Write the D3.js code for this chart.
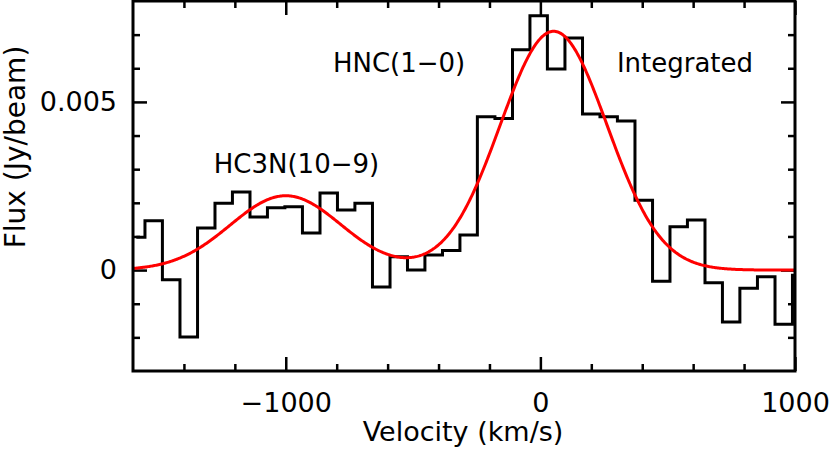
<!DOCTYPE html>
<html>
<head>
<meta charset="utf-8">
<script src="https://cdn.jsdelivr.net/npm/d3@7"></script>
<style>
  html, body { margin: 0; padding: 0; background: #fff; }
  svg { display: block; }
  text { font-family: "DejaVu Sans", sans-serif; fill: #000; }
</style>
</head>
<body>
<script>
// ---- data ----
const channelVelocity = [-1587, -1519, -1450, -1381, -1312, -1244, -1175, -1106, -1038, -969,
  -900, -831, -763, -694, -625, -556, -488, -419, -350, -282,
  -213, -144, -75, -7, 62, 131, 200, 268, 337, 406,
  475, 543, 612, 681, 749, 818, 887, 956, 1024];
const channelFlux = [0.00098, 0.00147, -0.00029, -0.00199, 0.00125, 0.00199, 0.00232, 0.00158, 0.00185, 0.00188,
  0.00110, 0.00229, 0.00179, 0.00199, -0.00050, 0.00040, 0.00000, 0.00045, 0.00058, 0.00104,
  0.00456, 0.00451, 0.00655, 0.00756, 0.00598, 0.00690, 0.00464, 0.00456, 0.00443, 0.00208,
  -0.00033, 0.00129, 0.00149, -0.00038, -0.00154, -0.00054, -0.00020, -0.00161, -0.00015];
// Gaussian fit components (HC3N(10-9), HNC(1-0))
const fitCenter = [-1000, 52];
const fitAmp = [0.00221, 0.00710];
const fitSigma = [218, 210];

const xDomain = [-1600, 1000];
const yDomain = [-0.003, 0.008];
const xMajorTicks = [-1000, 0, 1000];
const xMajorLabels = ["\u22121000", "0", "1000"];
const xMinorTicks = [-1400, -1200, -800, -600, -400, -200, 200, 400, 600, 800];
const yMajorTicks = [0, 0.005];
const yMajorLabels = ["0", "0.005"];
const yMinorTicks = [-0.002, -0.001, 0.001, 0.002, 0.003, 0.004, 0.006, 0.007];
const annotations = [
  {text: "HC3N(10\u22129)", v: -958, f: 0.00289},
  {text: "HNC(1\u22120)", v: -555, f: 0.00589},
  {text: "Integrated", v: 568, f: 0.00589}
];
const xTitle = "Velocity (km/s)";
const yTitle = "Flux (Jy/beam)";

// ---- layout ----
const W = 830, H = 449;
const L = 133, R = 795, T = 1, B = 371;

const svg = d3.select("body").append("svg").attr("width", W).attr("height", H);
const x = d3.scaleLinear().domain(xDomain).range([L, R]);
const y = d3.scaleLinear().domain(yDomain).range([B, T]);

svg.append("defs").append("clipPath").attr("id", "plotclip")
  .append("rect").attr("x", L).attr("y", T - 2).attr("width", R - L).attr("height", B - T + 4);

const FS = 27;

function styleAxis(g) {
  g.select(".domain").remove();
  g.selectAll(".tick line").attr("stroke", "#000").attr("stroke-width", 2.5);
  g.selectAll(".tick text").style("font-family", "DejaVu Sans, sans-serif").style("font-size", FS + "px").attr("fill", "#000");
}
const majLen = 14, minLen = 7;

svg.append("g").attr("transform", `translate(0,${B})`)
  .call(d3.axisBottom(x).tickValues(xMajorTicks).tickSize(-majLen).tickPadding(22)
    .tickFormat((d, i) => xMajorLabels[i]))
  .call(styleAxis);
svg.append("g").attr("transform", `translate(0,${B})`)
  .call(d3.axisBottom(x).tickValues(xMinorTicks).tickSize(-minLen).tickFormat(""))
  .call(styleAxis);
svg.append("g").attr("transform", `translate(0,${T})`)
  .call(d3.axisTop(x).tickValues(xMajorTicks).tickSize(-majLen).tickFormat(""))
  .call(styleAxis);
svg.append("g").attr("transform", `translate(0,${T})`)
  .call(d3.axisTop(x).tickValues(xMinorTicks).tickSize(-minLen).tickFormat(""))
  .call(styleAxis);

svg.append("g").attr("transform", `translate(${L},0)`)
  .call(d3.axisLeft(y).tickValues(yMajorTicks).tickSize(-majLen).tickPadding(16)
    .tickFormat((d, i) => yMajorLabels[i]))
  .call(styleAxis);
svg.append("g").attr("transform", `translate(${L},0)`)
  .call(d3.axisLeft(y).tickValues(yMinorTicks).tickSize(-minLen).tickFormat(""))
  .call(styleAxis);
svg.append("g").attr("transform", `translate(${R},0)`)
  .call(d3.axisRight(y).tickValues(yMajorTicks).tickSize(-majLen).tickFormat(""))
  .call(styleAxis);
svg.append("g").attr("transform", `translate(${R},0)`)
  .call(d3.axisRight(y).tickValues(yMinorTicks).tickSize(-minLen).tickFormat(""))
  .call(styleAxis);

// histogram
const spectrum = channelVelocity.map((v, i) => ({v, f: channelFlux[i]}));
svg.append("path")
  .datum(spectrum)
  .attr("clip-path", "url(#plotclip)")
  .attr("fill", "none").attr("stroke", "#000").attr("stroke-width", 3)
  .attr("stroke-linejoin", "miter")
  .attr("d", d3.line().x(d => x(d.v)).y(d => y(d.f)).curve(d3.curveStep));

// fitted model
const model = d3.range(xDomain[0], xDomain[1] + 1, 4).map(v => ({
  v,
  f: fitCenter.reduce((s, c, i) => s + fitAmp[i] * Math.exp(-0.5 * Math.pow((v - c) / fitSigma[i], 2)), 0)
}));
svg.append("path")
  .datum(model)
  .attr("clip-path", "url(#plotclip)")
  .attr("fill", "none").attr("stroke", "#ff0000").attr("stroke-width", 3)
  .attr("d", d3.line().x(d => x(d.v)).y(d => y(d.f)));

// frame
svg.append("rect").attr("x", L).attr("y", T).attr("width", R - L).attr("height", B - T)
  .attr("fill", "none").attr("stroke", "#000").attr("stroke-width", 3);

// annotations
svg.selectAll("text.ann").data(annotations).enter().append("text")
  .attr("class", "ann")
  .attr("x", d => x(d.v)).attr("y", d => y(d.f))
  .attr("text-anchor", "middle")
  .style("font-size", "26px")
  .text(d => d.text);

// axis titles
svg.append("text").attr("x", (L + R) / 2 - 1).attr("y", 441)
  .attr("text-anchor", "middle").style("font-size", "27px").text(xTitle);
svg.append("text")
  .attr("transform", `translate(25,${147}) rotate(-90)`)
  .attr("text-anchor", "middle").style("font-size", "28px").text(yTitle);
</script>
</body>
</html>
